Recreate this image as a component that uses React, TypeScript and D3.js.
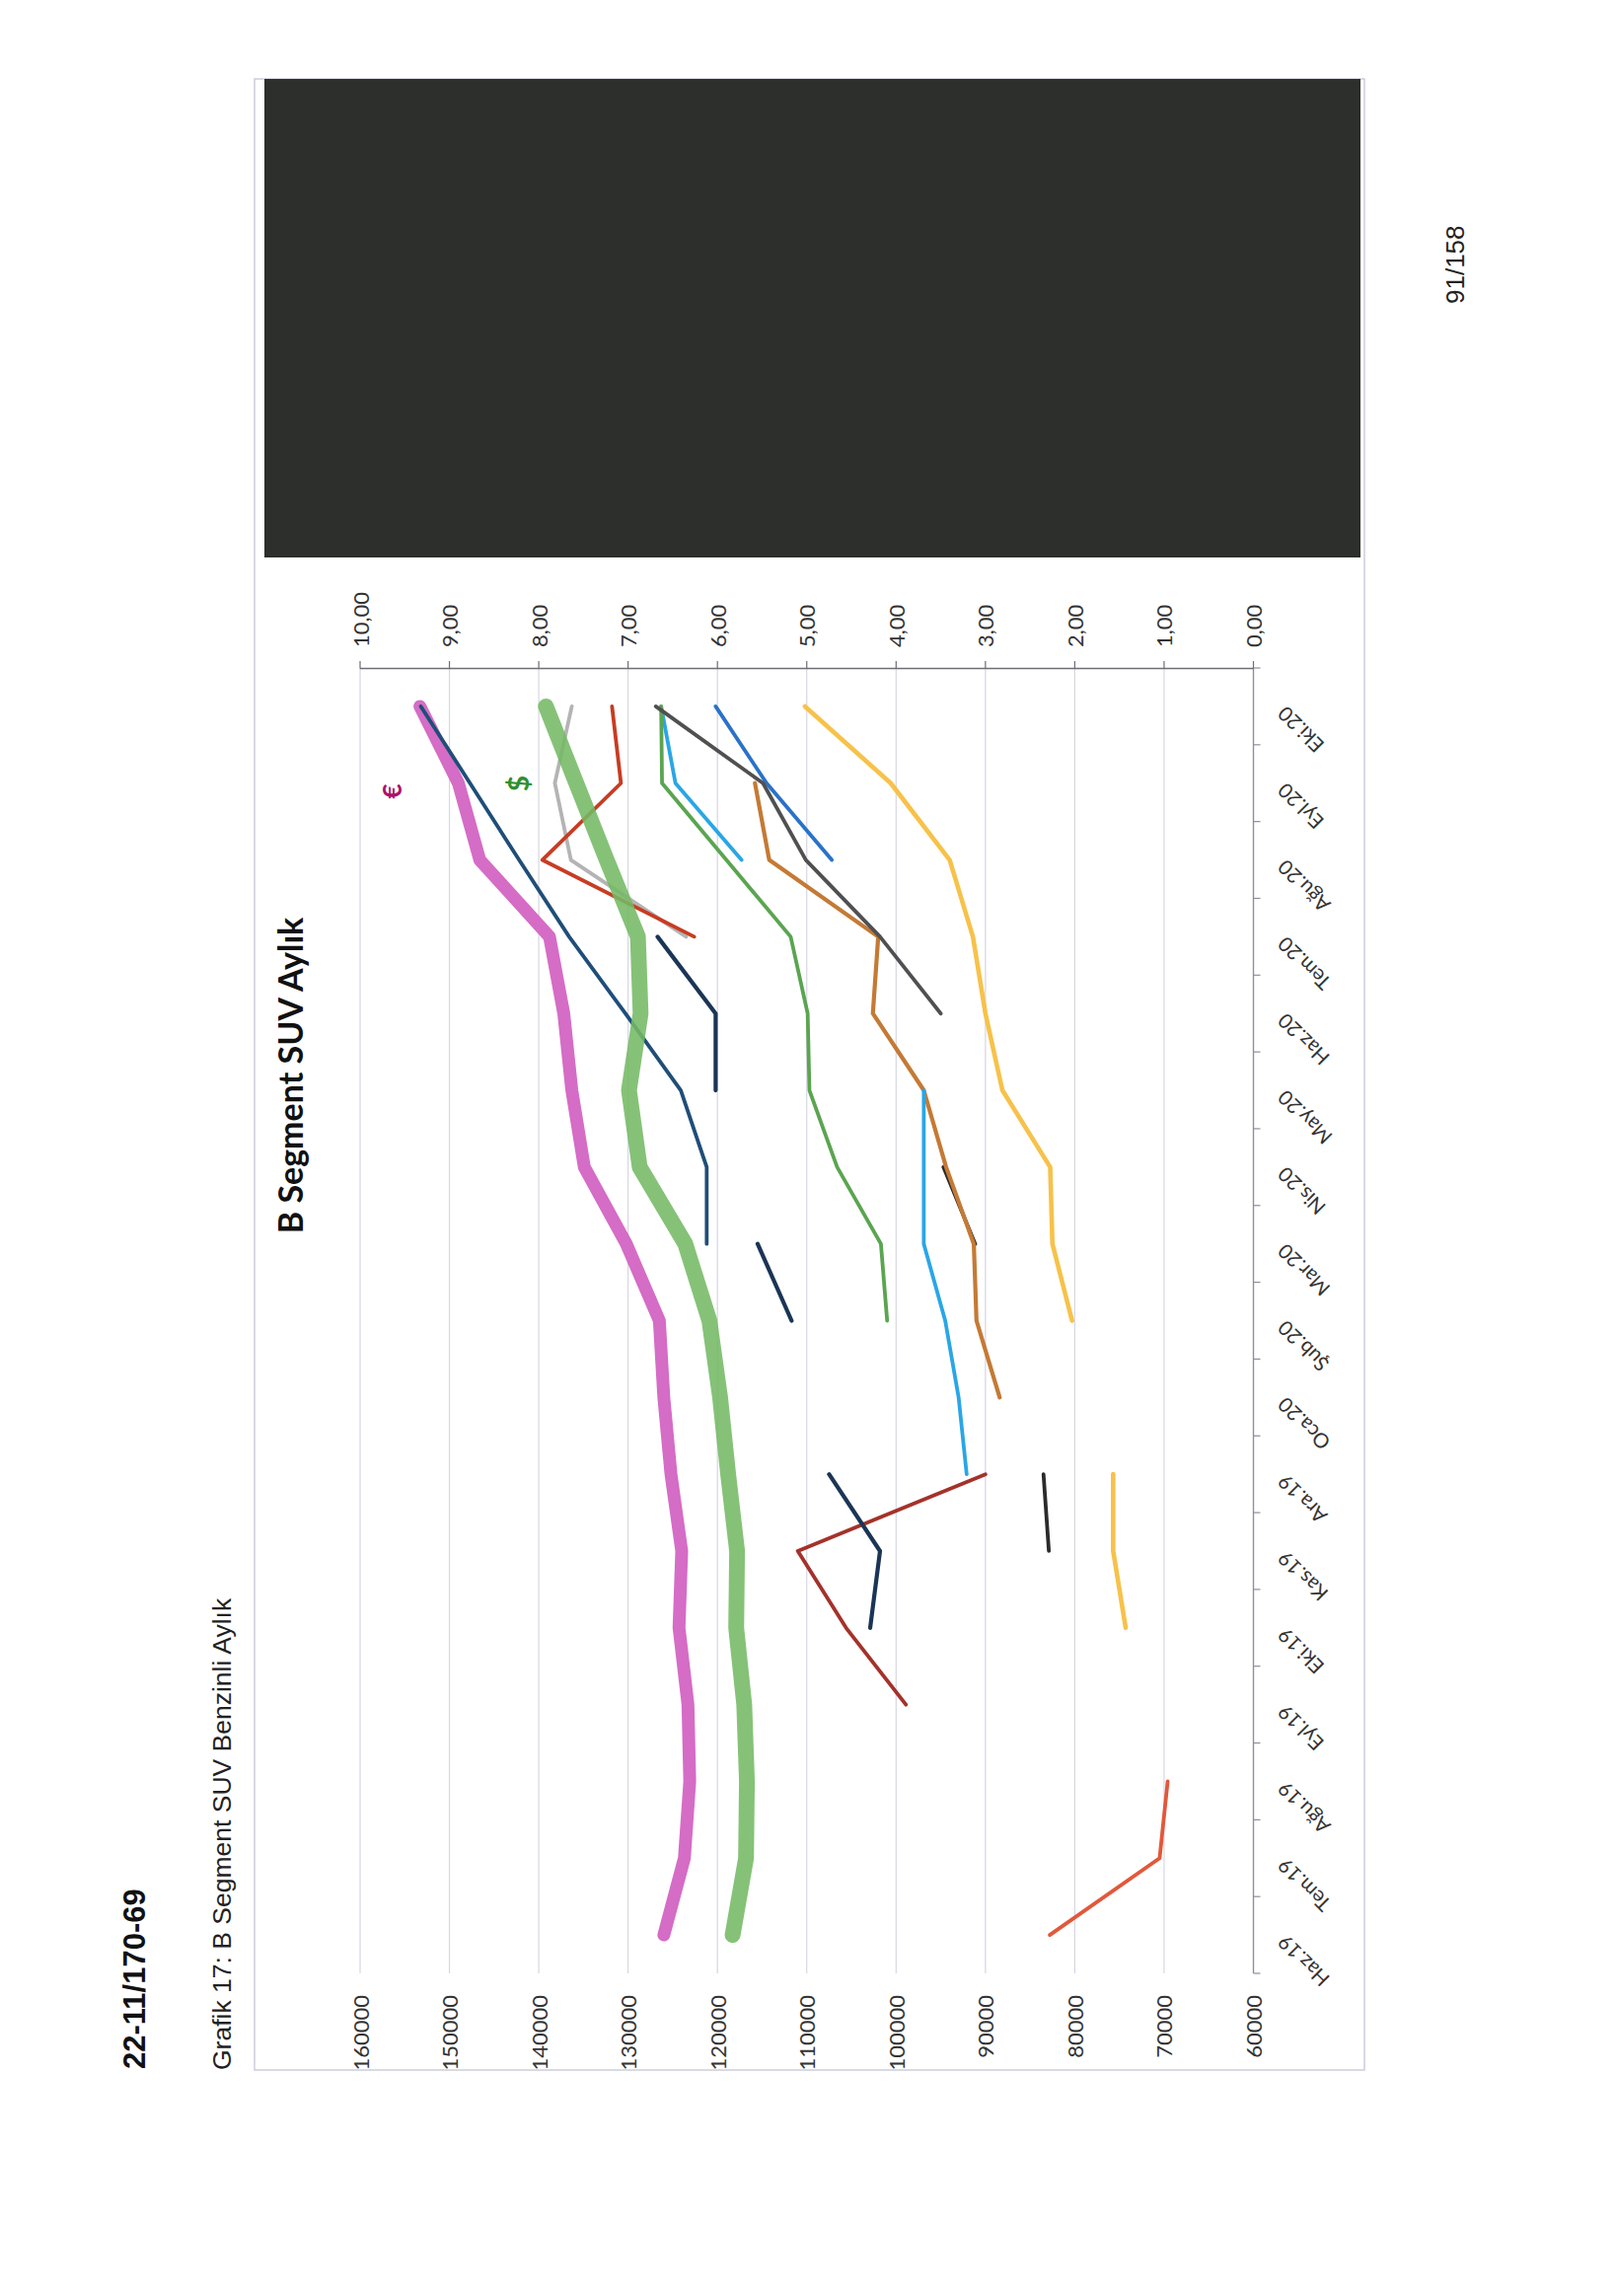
import React from "react";
import * as d3 from "d3";

// ---------------- DATA ----------------
const categories = [
  "Haz.19", "Tem.19", "Ağu.19", "Eyl.19", "Eki.19", "Kas.19", "Ara.19", "Oca.20",
  "Şub.20", "Mar.20", "Nis.20", "May.20", "Haz.20", "Tem.20", "Ağu.20", "Eyl.20", "Eki.20",
];

const leftTicks = [60000, 70000, 80000, 90000, 100000, 110000, 120000, 130000, 140000, 150000, 160000];
const rightTicks = [0, 1, 2, 3, 4, 5, 6, 7, 8, 9, 10];

// exchange rates (right axis)
const eurTry = [6.60, 6.37, 6.31, 6.33, 6.43, 6.40, 6.52, 6.60, 6.65, 7.02, 7.49, 7.63, 7.72, 7.88, 8.66, 8.90, 9.33];
const usdTry = [5.83, 5.68, 5.67, 5.70, 5.79, 5.78, 5.88, 5.97, 6.09, 6.36, 6.87, 6.99, 6.86, 6.89, 7.24, 7.58, 7.92];

// model prices (left axis), null = no value
const N = null;
const priceNavy = [N, N, N, N, N, N, N, N, N, 121200, 121200, 124100, 130300, 136600, 142200, 147700, 153200];
const priceDarkNavy = [N, N, N, N, 102900, 101800, 107500, N, 111700, 115500, N, 120200, 120200, 126700, N, N, N];
const priceRedBrown = [N, N, N, 98900, 105600, 111000, 90000, N, N, N, N, N, N, N, N, N, N];
const priceOrangeRed = [82800, 70500, 69600, N, N, N, N, N, N, N, N, N, N, N, N, N, N];
const priceRed = [N, N, N, N, N, N, N, N, N, N, N, N, N, 122600, 139600, 130800, 131800];
const priceLightGray = [N, N, N, N, N, N, N, N, N, N, N, N, N, 123500, 136400, 138200, 136300];
const priceDarkGray = [N, N, N, N, N, N, N, N, N, N, N, N, 95000, 101800, 110100, 114900, 126900];
const priceBlue = [N, N, N, N, N, N, N, N, N, N, N, N, N, N, 107200, 114500, 120200];
const priceLightBlue = [N, N, N, N, N, N, 92100, 93000, 94500, 96900, 96900, 96900, N, N, 117300, 124700, 126300];
const priceOlive = [N, N, N, N, N, N, N, N, 101000, 101700, 106600, 109700, 109900, 111800, 119000, 126200, 126300];
const priceBrown = [N, N, N, N, N, N, N, 88400, 91000, 91300, 94400, 96900, 102600, 102000, 114200, 115800, N];
const priceBlack = [N, N, N, N, N, 82900, 83500, N, N, 91150, 94700, N, N, N, N, N, N];
const priceYellow = [N, N, N, N, 74300, 75700, 75700, N, 80300, 82500, 82750, 88100, 90000, 91400, 94000, 100600, 110200];

// ---------------- STYLES ----------------
const seriesList = [
  { values: priceOrangeRed, axis: "left", color: "#e2583a", width: 3.8, opacity: 1 },
  { values: priceRedBrown, axis: "left", color: "#a4322a", width: 3.8, opacity: 1 },
  { values: priceBlack, axis: "left", color: "#2b2b2b", width: 3.8, opacity: 1 },
  { values: priceYellow, axis: "left", color: "#f7c24a", width: 4.6, opacity: 1 },
  { values: priceBrown, axis: "left", color: "#c47a35", width: 4.2, opacity: 1 },
  { values: priceLightBlue, axis: "left", color: "#2aa6e6", width: 3.8, opacity: 1 },
  { values: priceOlive, axis: "left", color: "#5aa550", width: 3.8, opacity: 1 },
  { values: priceBlue, axis: "left", color: "#2a72c8", width: 3.8, opacity: 1 },
  { values: priceDarkGray, axis: "left", color: "#505050", width: 3.8, opacity: 1 },
  { values: priceLightGray, axis: "left", color: "#b4b4b4", width: 3.8, opacity: 1 },
  { values: priceRed, axis: "left", color: "#c83c22", width: 3.8, opacity: 1 },
  { values: priceDarkNavy, axis: "left", color: "#1b3556", width: 4.2, opacity: 1 },
  { values: eurTry, axis: "right", color: "#d56cc6", width: 13, opacity: 1 },
  { values: priceNavy, axis: "left", color: "#1f4e79", width: 3.8, opacity: 1 },
  { values: usdTry, axis: "right", color: "#74b964", width: 16, opacity: 0.88 },
];

// ---------------- GEOMETRY ----------------
const W = 1637;
const H = 2327;
const valTop = 365;
const valBottom = 1270.5;
const catStart = 2000;
const catEnd = 677;

const cScale = d3.scalePoint<string>().domain(categories).range([catStart, catEnd]).padding(0.5);
const step = cScale.step();
const leftScale = d3.scaleLinear().domain([60000, 160000]).range([valBottom, valTop]);
const rightScale = d3.scaleLinear().domain([0, 10]).range([valBottom, valTop]);
const fmtRight = (v: number) => d3.format(".2f")(v).replace(".", ",");

const chartFont = "Lato, 'Open Sans', sans-serif";
const pageFont = "'Liberation Sans', Arial, sans-serif";

export default function App() {
  const paths = seriesList.map((s, k) => {
    const sc = s.axis === "left" ? leftScale : rightScale;
    const gen = d3
      .line<number | null>()
      .defined((d) => d != null)
      .x((d) => sc(d as number))
      .y((_d, i) => cScale(categories[i]) as number);
    return (
      <path
        key={k}
        d={gen(s.values) || ""}
        fill="none"
        stroke={s.color}
        strokeWidth={s.width}
        strokeOpacity={s.opacity}
        strokeLinecap="round"
        strokeLinejoin="round"
      />
    );
  });

  const boundaries = d3.range(categories.length + 1).map((k) => catStart - k * step);

  return (
    <svg
      width={W}
      height={H}
      viewBox={`0 0 ${W} ${H}`}
      style={{ position: "absolute", left: 0, top: 0, background: "#ffffff" }}
    >
      <rect x={0} y={0} width={W} height={H} fill="#ffffff" />

      {/* page texts */}
      <text transform="translate(147,2097) rotate(-90)" fontFamily={pageFont} fontWeight="bold" fontSize={31} fill="#111">
        22-11/170-69
      </text>
      <text transform="translate(234,2098) rotate(-90)" fontFamily={pageFont} fontSize={26.5} fill="#222">
        Grafik 17: B Segment SUV Benzinli Aylık
      </text>
      <text transform="translate(1484,308) rotate(-90)" fontFamily={pageFont} fontSize={26} fill="#222">
        91/158
      </text>

      {/* chart frame */}
      <rect x={258} y={80} width={1125} height={2018} fill="#ffffff" stroke="#cdcddb" strokeWidth={1.5} />

      {/* gridlines */}
      {leftTicks.map((t) => (
        <line key={"g" + t} x1={leftScale(t)} x2={leftScale(t)} y1={catEnd} y2={catStart} stroke="#d6d6e4" strokeWidth={1.2} />
      ))}

      {/* category axis */}
      <line x1={valBottom} x2={valBottom} y1={catEnd} y2={catStart} stroke="#8e8e9a" strokeWidth={1.3} />
      {boundaries.map((y, k) => (
        <line key={"ct" + k} x1={valBottom} x2={valBottom + 7} y1={y} y2={y} stroke="#8e8e9a" strokeWidth={1.2} />
      ))}
      {categories.map((c) => (
        <text
          key={"cl" + c}
          transform={`translate(${valBottom + 28},${(cScale(c) as number) + 4}) rotate(-135)`}
          textAnchor="end"
          dominantBaseline="central"
          fontFamily={chartFont}
          fontSize={20.5}
          fill="#333"
        >
          {c}
        </text>
      ))}

      {/* right value axis (page top) */}
      <line x1={valTop} x2={valBottom} y1={catEnd + 0.5} y2={catEnd + 0.5} stroke="#6d6d78" strokeWidth={1.3} />
      {rightTicks.map((t) => (
        <g key={"r" + t}>
          <line x1={rightScale(t)} x2={rightScale(t)} y1={catEnd - 7} y2={catEnd + 0.5} stroke="#6d6d78" strokeWidth={1.2} />
          <text
            transform={`translate(${rightScale(t)},656) rotate(-90)`}
            textAnchor="start"
            dominantBaseline="central"
            fontFamily={chartFont}
            fontSize={22}
            fill="#333"
          >
            {fmtRight(t)}
          </text>
        </g>
      ))}

      {/* left value axis labels (page bottom) */}
      {leftTicks.map((t) => (
        <text
          key={"l" + t}
          transform={`translate(${leftScale(t)},2022) rotate(-90)`}
          textAnchor="end"
          dominantBaseline="central"
          fontFamily={chartFont}
          fontSize={22}
          fill="#333"
        >
          {String(t)}
        </text>
      ))}

      {/* series */}
      {paths}

      {/* currency markers */}
      <text transform="translate(397,802) rotate(-90)" textAnchor="middle" dominantBaseline="central" fontFamily={chartFont} fontWeight="bold" fontSize={26} fill="#b0106a">
        €
      </text>
      <text transform="translate(525,794) rotate(-90)" textAnchor="middle" dominantBaseline="central" fontFamily={chartFont} fontWeight="bold" fontSize={28} fill="#2f8f2f">
        $
      </text>

      {/* title */}
      <text transform="translate(307,1090) rotate(-90)" textAnchor="middle" fontFamily={chartFont} fontWeight="bold" fontSize={34} fill="#111">
        B Segment SUV Aylık
      </text>

      {/* redacted block */}
      <rect x={268} y={80} width={1111} height={485} fill="#2c2f2b" />
    </svg>
  );
}
